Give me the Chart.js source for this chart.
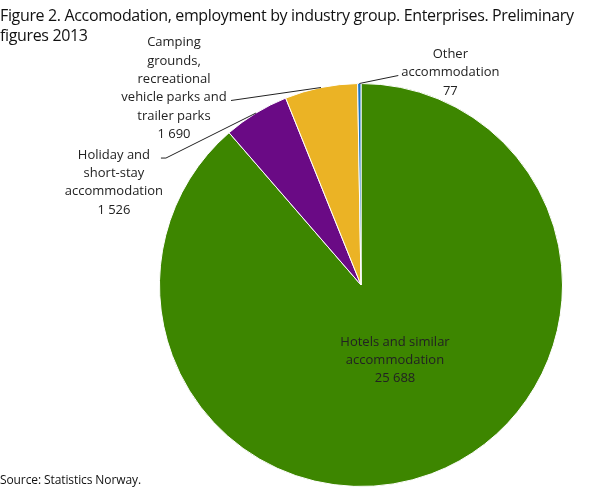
<!DOCTYPE html>
<html><head><meta charset="utf-8">
<script src="https://cdn.jsdelivr.net/npm/chart.js@4/dist/chart.umd.min.js"></script>
<style>
html,body{margin:0;padding:0;background:#fff;}
#wrap{position:relative;width:608px;height:489px;overflow:hidden;}
#title{position:absolute;left:0;top:5px;font-family:"Open Sans",sans-serif;font-size:16px;line-height:20px;color:#111;white-space:nowrap;letter-spacing:-0.35px;}
#source{position:absolute;left:0;top:471px;font-family:"Open Sans",sans-serif;font-size:12px;color:#111;letter-spacing:-0.1px;}
canvas{position:absolute;left:0;top:0;}
</style></head>
<body><div id="wrap">
<canvas id="c" width="608" height="489"></canvas>
<div id="title">Figure 2. Accomodation, employment by industry group. Enterprises. Preliminary<br>figures 2013</div>
<div id="source">Source: Statistics Norway.</div>
</div>
<script>
const categories = ["Hotels and similar accommodation","Holiday and short-stay accommodation","Camping grounds, recreational vehicle parks and trailer parks","Other accommodation"];
const labelLines = [["Hotels and similar","accommodation"],["Holiday and","short-stay","accommodation"],["Camping","grounds,","recreational","vehicle parks and","trailer parks"],["Other","accommodation"]];
const values = [25688, 1526, 1690, 77];
const colors = ["#3d8600","#6a0a85","#ebb325","#1a74c4"];

// label layout (relative to slice anchor on the rim); hotels is inside
const labelLayout = [
  {inside:true, cx:395, cy:342},
  {elbow:[-90,45], hook:-5, cxOff:-47, rowLine:0},
  {elbow:[-90,13], hook:0, cxOff:-57, rowLine:3},
  {elbow:[39,-8], hook:0, cxOff:52, rowLine:1}
];

function fmt(v){return String(v).replace(/\B(?=(\d{3})+(?!\d))/g," ");}

const labelPlugin = {
  id:'pieLabels',
  afterDatasetsDraw(chart){
    const ctx = chart.ctx;
    const meta = chart.getDatasetMeta(0);
    ctx.save();
    ctx.font = '13px "Open Sans", sans-serif';
    ctx.fillStyle = '#222';
    ctx.textAlign = 'center';
    ctx.textBaseline = 'middle';
    const lh = 18.3;
    meta.data.forEach((arc,i)=>{
      const p = arc.getProps(['x','y','startAngle','endAngle','outerRadius'],true);
      const lines = labelLines[i].concat([fmt(values[i])]);
      const L = labelLayout[i];
      if(L.inside){
        lines.forEach((t,k)=>ctx.fillText(t,L.cx,L.cy+k*lh));
        return;
      }
      const mid=(p.startAngle+p.endAngle)/2;
      const ax=p.x+Math.cos(mid)*p.outerRadius, ay=p.y+Math.sin(mid)*p.outerRadius;
      const ex=ax+L.elbow[0], ey=ay+L.elbow[1];
      ctx.strokeStyle='#222'; ctx.lineWidth=1;
      ctx.beginPath(); ctx.moveTo(ax,ay); ctx.lineTo(ex,ey);
      if(L.hook) ctx.lineTo(ex+L.hook,ey);
      ctx.stroke();
      const cx=ex+L.hook+L.cxOff;
      const top=ey-L.rowLine*lh-3;
      lines.forEach((t,k)=>ctx.fillText(t,cx,top+k*lh));
    });
    ctx.restore();
  }
};

new Chart(document.getElementById('c'),{
  type:'pie',
  data:{labels:categories,datasets:[{data:values,backgroundColor:colors,borderColor:'#ffffff',borderWidth:1}]},
  options:{
    responsive:false,animation:false,
    layout:{padding:{left:159,right:45,top:83,bottom:2}},
    plugins:{legend:{display:false},tooltip:{enabled:false},title:{display:false}}
  },
  plugins:[labelPlugin]
});
</script>
</body></html>
